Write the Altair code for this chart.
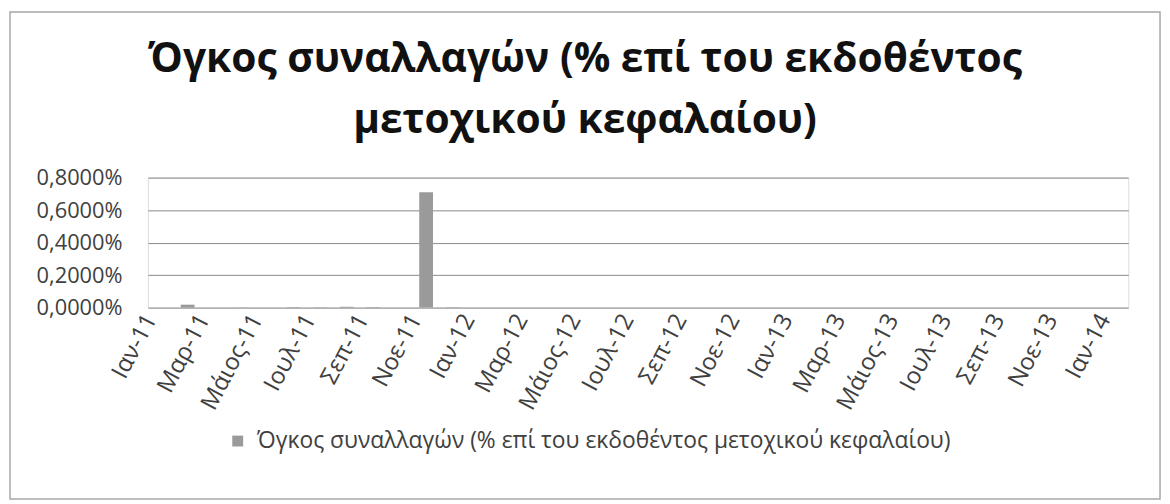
import altair as alt
import pandas as pd

months = [
    "Ιαν-11", "Φεβ-11", "Μαρ-11", "Απρ-11", "Μάιος-11", "Ιουν-11", "Ιουλ-11", "Αυγ-11", "Σεπ-11", "Οκτ-11", "Νοε-11", "Δεκ-11",
    "Ιαν-12", "Φεβ-12", "Μαρ-12", "Απρ-12", "Μάιος-12", "Ιουν-12", "Ιουλ-12", "Αυγ-12", "Σεπ-12", "Οκτ-12", "Νοε-12", "Δεκ-12",
    "Ιαν-13", "Φεβ-13", "Μαρ-13", "Απρ-13", "Μάιος-13", "Ιουν-13", "Ιουλ-13", "Αυγ-13", "Σεπ-13", "Οκτ-13", "Νοε-13", "Δεκ-13",
    "Ιαν-14",
]
# share of issued capital traded (fraction, 0.01 = 1%)
volume = [
    0.0, 0.00018, 0.0, 0.00001, 0.0, 0.00003, 0.00002, 0.00005, 0.00003, 0.0, 0.0071, 0.00002,
    0.0, 0.0, 0.0, 0.0, 0.0, 0.0, 0.0, 0.0, 0.0, 0.0, 0.0, 0.0,
    0.0, 0.0, 0.0, 0.0, 0.0, 0.0, 0.0, 0.0, 0.0, 0.0, 0.0, 0.0,
    0.0,
]
y_ticks = [0.0, 0.002, 0.004, 0.006, 0.008]
shown_labels = months[::2]
series_name = "Όγκος συναλλαγών (% επί του εκδοθέντος μετοχικού κεφαλαίου)"

df = pd.DataFrame({"month": months, "value": volume, "series": series_name})

FONT = "Open Sans"

bars = (
    alt.Chart(df)
    .mark_bar(color="#9a9a9a")
    .encode(
        x=alt.X(
            "month:N",
            sort=months,
            scale=alt.Scale(paddingInner=0.48, paddingOuter=0.24),
            axis=alt.Axis(
                title=None,
                values=shown_labels,
                labelAngle=-62,
                labelAlign="right",
                labelBaseline="middle",
                labelFont=FONT,
                labelFontSize=24,
                labelColor="#404040",
                labelPadding=8,
                labelOffset=-10,
                ticks=False,
                domain=False,
                grid=False,
            ),
        ),
        y=alt.Y(
            "value:Q",
            scale=alt.Scale(domain=[0, 0.008], nice=False),
            axis=alt.Axis(
                title=None,
                values=y_ticks,
                labelExpr="replace(format(datum.value, '.4%'), '.', ',')",
                labelFont=FONT,
                labelFontSize=22,
                labelColor="#404040",
                labelPadding=26,
                ticks=False,
                domain=False,
                grid=True,
                gridColor="#8a8a8a",
                gridWidth=1,
            ),
        ),
        fill=alt.Fill(
            "series:N",
            scale=alt.Scale(range=["#9a9a9a"]),
            legend=alt.Legend(
                title=None,
                orient="none",
                legendX=79,
                legendY=254,
                symbolType="square",
                symbolSize=120,
                labelFont=FONT,
                labelFontSize=23,
                labelColor="#404040",
                labelLimit=1000,
                labelOffset=8,
            ),
        ),
    )
)

frame_df = pd.DataFrame({"k": [0]})
frame = (
    alt.Chart(frame_df)
    .mark_rect(fill="transparent", stroke="#a8a8a8", strokeWidth=1.5)
    .encode(
        x=alt.value(-139),
        x2=alt.value(1020),
        y=alt.value(-167),
        y2=alt.value(324),
    )
)

chart = (
    alt.layer(frame, bars)
    .properties(
        width=988,
        height=131,
        title=alt.Title(
            ["Όγκος συναλλαγών (% επί του εκδοθέντος", "μετοχικού κεφαλαίου)"],
            font=FONT,
            fontSize=41,
            fontWeight="bold",
            color="#111111",
            anchor="middle",
            frame="bounds",
            lineHeight=62,
            offset=-132,
        ),
    )
    .configure_view(stroke=None)
    .configure(padding={"left": 1, "top": 1, "right": 1, "bottom": 1})
)

chart.save("out.html", embed_options={"renderer": "svg", "actions": False})
